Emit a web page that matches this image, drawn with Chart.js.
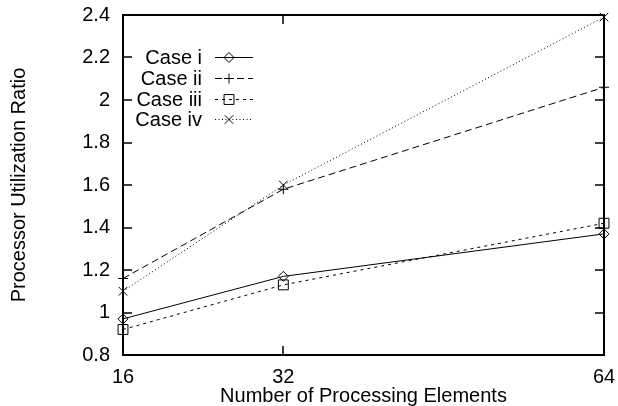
<!DOCTYPE html>
<html><head><meta charset="utf-8">
<script src="https://cdn.jsdelivr.net/npm/chart.js@4.4.0/dist/chart.umd.min.js"></script>
<style>html,body{margin:0;padding:0;background:#fff}</style>
</head><body>
<canvas id="c" width="618" height="406"></canvas>
<script>
const xValues = [16, 32, 64];
const caseI   = [0.97, 1.17, 1.37];
const caseII  = [1.16, 1.58, 2.06];
const caseIII = [0.92, 1.13, 1.42];
const caseIV  = [1.10, 1.60, 2.39];
const yTickValues = [0.8, 1.0, 1.2, 1.4, 1.6, 1.8, 2.0, 2.2, 2.4];
const seriesLabels = ['Case i', 'Case ii', 'Case iii', 'Case iv'];
const xTitle = 'Number of Processing Elements';
const yTitle = 'Processor Utilization Ratio';

const FONT = 'Liberation Sans, Arial, Helvetica, sans-serif';

function pts(arr){ return xValues.map((x,i)=>({x:x, y:arr[i]})); }

const styles = [
  {dash: [], style: 'rectRot', r: 5},
  {dash: [7,4], style: 'cross', r: 5},
  {dash: [3,4], style: 'rect', r: 7},
  {dash: [1,2.5], style: 'crossRot', r: 6}
];
const seriesData = [caseI, caseII, caseIII, caseIV];

const datasets = seriesData.map((d,i)=>({
  label: seriesLabels[i],
  data: pts(d),
  borderColor: '#000',
  borderWidth: 1,
  borderDash: styles[i].dash,
  pointStyle: styles[i].style,
  pointRadius: styles[i].r,
  pointBorderColor: '#000',
  pointBackgroundColor: 'rgba(0,0,0,0)',
  pointBorderWidth: 1,
  tension: 0,
  fill: false,
  clip: false
}));

function drawMarker(ctx, style, x, y, r){
  ctx.save();
  ctx.setLineDash([]);
  ctx.lineWidth = 1;
  ctx.strokeStyle = '#000';
  ctx.beginPath();
  if (style === 'rectRot') {
    ctx.moveTo(x, y - r); ctx.lineTo(x + r, y); ctx.lineTo(x, y + r); ctx.lineTo(x - r, y); ctx.closePath();
  } else if (style === 'cross') {
    ctx.moveTo(x, y - r); ctx.lineTo(x, y + r); ctx.moveTo(x - r, y); ctx.lineTo(x + r, y);
  } else if (style === 'rect') {
    const s = Math.SQRT1_2 * r; ctx.rect(x - s, y - s, 2*s, 2*s);
  } else if (style === 'crossRot') {
    const s = Math.SQRT1_2 * r;
    ctx.moveTo(x - s, y - s); ctx.lineTo(x + s, y + s); ctx.moveTo(x - s, y + s); ctx.lineTo(x + s, y - s);
  }
  ctx.stroke();
  ctx.restore();
}

const framePlugin = {
  id: 'frame',
  beforeDatasetsDraw(chart){
    const {ctx, chartArea: a, scales} = chart;
    ctx.save();
    ctx.strokeStyle = '#000';
    ctx.lineWidth = 1.5;
    ctx.beginPath();
    const tl = 9;
    yTickValues.forEach(v=>{
      const y = Math.round(scales.y.getPixelForValue(v));
      ctx.moveTo(a.left, y); ctx.lineTo(a.left + tl, y);
      ctx.moveTo(a.right, y); ctx.lineTo(a.right - tl, y);
    });
    xValues.forEach(v=>{
      const x = Math.round(scales.x.getPixelForValue(v));
      ctx.moveTo(x, a.bottom); ctx.lineTo(x, a.bottom - tl);
      ctx.moveTo(x, a.top); ctx.lineTo(x, a.top + tl);
    });
    ctx.stroke();
    ctx.restore();
  },
  afterDraw(chart){
    const {ctx, chartArea: a} = chart;
    ctx.save();
    ctx.strokeStyle = '#000';
    ctx.lineWidth = 2;
    ctx.strokeRect(a.left, a.top, a.right - a.left, a.bottom - a.top);
    // legend
    ctx.font = '20px ' + FONT;
    ctx.fillStyle = '#000';
    ctx.textAlign = 'right';
    ctx.textBaseline = 'middle';
    const rowY0 = 57, rowH = 20.8, textX = 202, lx0 = 215, lx1 = 253, mx = 229;
    chart.data.datasets.forEach((ds, i)=>{
      const y = Math.round(rowY0 + i*rowH) + 0.5;
      ctx.fillText(ds.label, textX, y + 1);
      ctx.save();
      ctx.lineWidth = 1;
      ctx.setLineDash(ds.borderDash);
      ctx.beginPath(); ctx.moveTo(lx0, y); ctx.lineTo(lx1, y); ctx.stroke();
      ctx.restore();
      drawMarker(ctx, ds.pointStyle, mx, y, ds.pointRadius);
    });
    ctx.restore();
  }
};

new Chart(document.getElementById('c'), {
  type: 'line',
  data: { datasets },
  options: {
    responsive: false,
    animation: false,
    devicePixelRatio: 1,
    layout: { padding: { top: 15, right: 14, left: 0, bottom: 0 } },
    plugins: { legend: { display: false }, tooltip: { enabled: false } },
    scales: {
      x: {
        type: 'linear', min: 16, max: 64,
        afterBuildTicks(s){ s.ticks = xValues.map(v=>({value:v})); },
        afterFit(s){ s.height = 51; s.paddingLeft = 0; s.paddingRight = 0; },
        grid: { display: false, drawTicks: false },
        border: { display: false },
        ticks: { color: '#000', font: { family: FONT, size: 20 }, padding: 10, maxRotation: 0, autoSkip: false },
        title: { display: true, text: xTitle, color: '#000', font: { family: FONT, size: 20, lineHeight: 1 }, padding: { top: 0, bottom: 0 } }
      },
      y: {
        min: 0.8, max: 2.4,
        afterBuildTicks(s){ s.ticks = yTickValues.map(v=>({value:v})); },
        afterFit(s){ s.width = 123; s.paddingTop = 0; s.paddingBottom = 0; },
        grid: { display: false, drawTicks: false },
        border: { display: false },
        ticks: { color: '#000', font: { family: FONT, size: 20 }, padding: 13,
          callback: v => String(Number(v.toFixed(1))) },
        title: { display: true, text: yTitle, color: '#000', font: { family: FONT, size: 20, lineHeight: 1 }, padding: { top: 9, bottom: 0 } }
      }
    }
  },
  plugins: [framePlugin]
});
</script>
</body></html>
